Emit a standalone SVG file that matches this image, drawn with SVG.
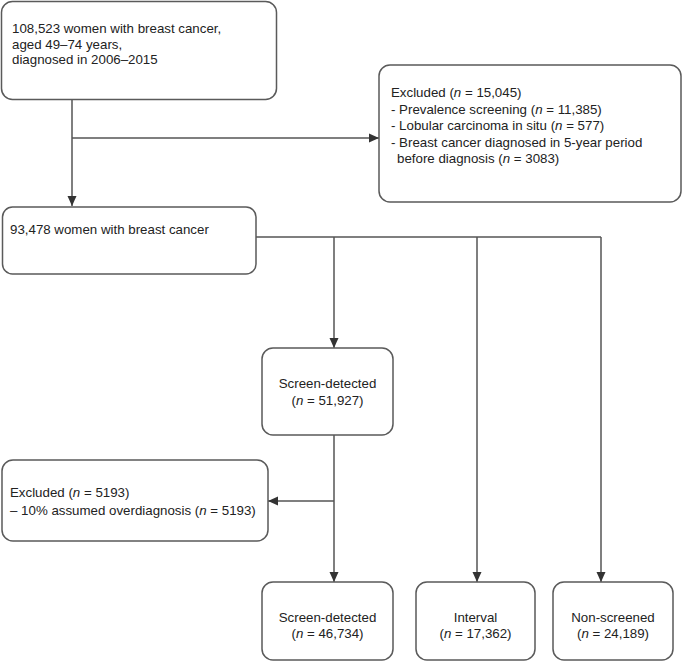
<svg xmlns="http://www.w3.org/2000/svg" width="685" height="669" viewBox="0 0 685 669">
<defs>
<style>
.box{fill:#fff;stroke:#5a5a5a;stroke-width:1.5}
.t{font-family:"Liberation Sans",Arial,sans-serif;font-size:13.3px;fill:#222}
.c{text-anchor:middle}
.i{font-style:italic}
.ln{fill:none;stroke:#555;stroke-width:1.5}
</style>
<marker id="ah" markerWidth="10" markerHeight="10" viewBox="0 0 10 10" refX="10" refY="5" orient="auto" markerUnits="userSpaceOnUse">
<path d="M0,0.5 L10,5 L0,9.5 Z" fill="#333"/>
</marker>
</defs>
<rect width="685" height="669" fill="#fff"/>
<g id="connectors">
<path class="ln" d="M72,100 V206" marker-end="url(#ah)"/>
<path class="ln" d="M72,138 H379" marker-end="url(#ah)"/>
<path class="ln" d="M256,237 H601"/>
<path class="ln" d="M334,237 V348" marker-end="url(#ah)"/>
<path class="ln" d="M477,237 V582" marker-end="url(#ah)"/>
<path class="ln" d="M601,237 V582" marker-end="url(#ah)"/>
<path class="ln" d="M334,435 V582" marker-end="url(#ah)"/>
<path class="ln" d="M334,501 H268" marker-end="url(#ah)"/>
</g>
<g id="n1">
<rect class="box" x="1.5" y="1.5" width="275" height="98" rx="11"/>
<text class="t" x="12" y="33">108,523 women with breast cancer,</text>
<text class="t" x="12" y="48.5">aged 49–74 years,</text>
<text class="t" x="12" y="64">diagnosed in 2006–2015</text>
</g>
<g id="n2">
<rect class="box" x="379" y="65" width="302" height="137" rx="11"/>
<text class="t" x="391" y="97">Excluded (<tspan class="i">n</tspan> = 15,045)</text>
<text class="t" x="391" y="113.5">- Prevalence screening (<tspan class="i">n</tspan> = 11,385)</text>
<text class="t" x="391" y="130">- Lobular carcinoma in situ (<tspan class="i">n</tspan> = 577)</text>
<text class="t" x="391" y="146.5">- Breast cancer diagnosed in 5-year period</text>
<text class="t" x="397" y="163">before diagnosis (<tspan class="i">n</tspan> = 3083)</text>
</g>
<g id="n3">
<rect class="box" x="2.5" y="207" width="253.5" height="67" rx="10"/>
<text class="t" x="10" y="234">93,478 women with breast cancer</text>
</g>
<g id="n4">
<rect class="box" x="262" y="348" width="131" height="87" rx="11"/>
<text class="t c" x="327.5" y="388">Screen-detected</text>
<text class="t c" x="327.5" y="405">(<tspan class="i">n</tspan> = 51,927)</text>
</g>
<g id="n5">
<rect class="box" x="2" y="460" width="266" height="81" rx="11"/>
<text class="t" x="10" y="497">Excluded (<tspan class="i">n</tspan> = 5193)</text>
<text class="t" x="10" y="515">– 10% assumed overdiagnosis (<tspan class="i">n</tspan> = 5193)</text>
</g>
<g id="n6">
<rect class="box" x="262" y="582" width="131" height="78" rx="11"/>
<text class="t c" x="327.5" y="622">Screen-detected</text>
<text class="t c" x="327.5" y="637.5">(<tspan class="i">n</tspan> = 46,734)</text>
</g>
<g id="n7">
<rect class="box" x="416" y="582" width="119" height="78" rx="11"/>
<text class="t c" x="475.5" y="622">Interval</text>
<text class="t c" x="475.5" y="637.5">(<tspan class="i">n</tspan> = 17,362)</text>
</g>
<g id="n8">
<rect class="box" x="553" y="582" width="120" height="78" rx="11"/>
<text class="t c" x="613" y="622">Non-screened</text>
<text class="t c" x="613" y="637.5">(<tspan class="i">n</tspan> = 24,189)</text>
</g>
</svg>
